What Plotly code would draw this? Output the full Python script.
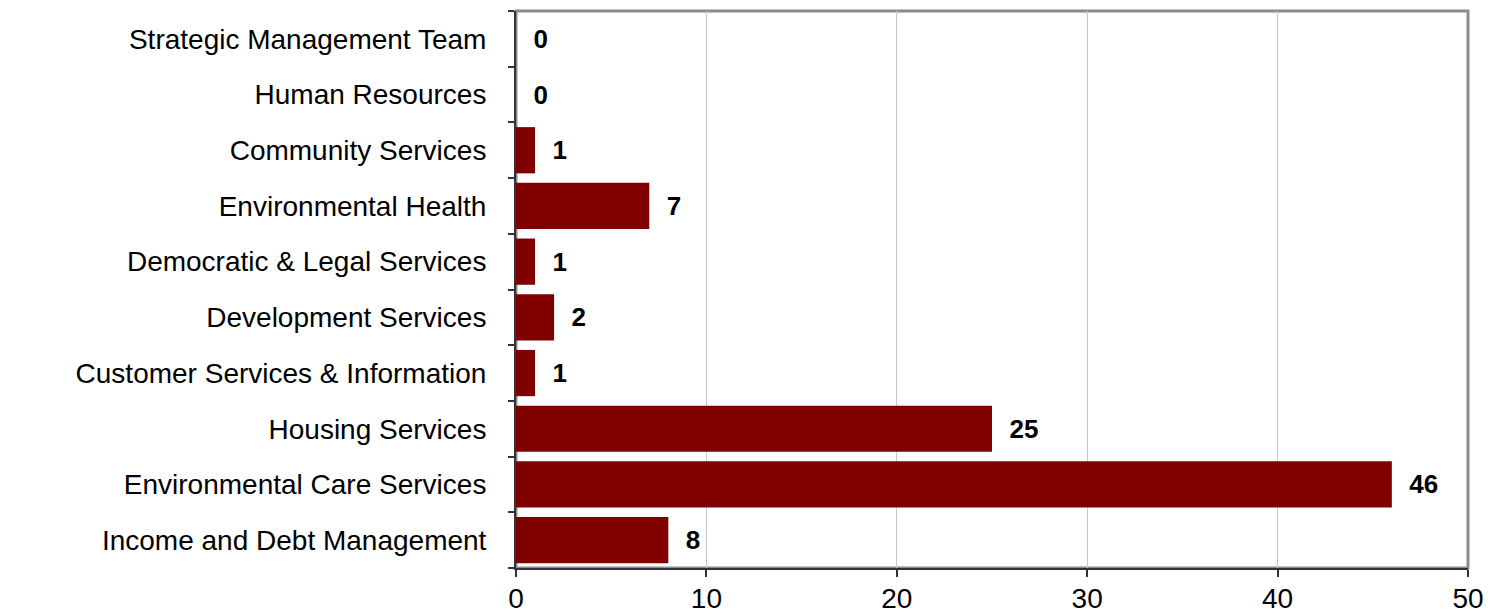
import plotly.graph_objects as go

categories = [
    "Income and Debt Management",
    "Environmental Care Services",
    "Housing Services",
    "Customer Services & Information",
    "Development Services",
    "Democratic & Legal Services",
    "Environmental Health",
    "Community Services",
    "Human Resources",
    "Strategic Management Team",
]
values = [8, 46, 25, 1, 2, 1, 7, 1, 0, 0]
x_ticks = [0, 10, 20, 30, 40, 50]

FONT = "Liberation Sans, Arial, sans-serif"

fig = go.Figure()
fig.add_trace(go.Bar(
    y=categories,
    x=values,
    orientation="h",
    marker=dict(color="#800000", line=dict(width=0)),
    text=["  " + str(v) for v in values],
    textposition="outside",
    textfont=dict(family=FONT, size=26, color="#000000", weight="bold"),
    cliponaxis=False,
    width=0.83,
))

# page body has an 8px default margin, so the figure is sized to fit inside it
fig.update_layout(
    width=1493,
    height=606,
    margin=dict(l=508, r=33, t=3, b=46, autoexpand=False),
    paper_bgcolor="white",
    plot_bgcolor="white",
    showlegend=False,
    font=dict(family=FONT, size=28, color="#000000"),
    xaxis=dict(
        range=[0, 50],
        tickvals=x_ticks,
        ticktext=[str(t) for t in x_ticks],
        showgrid=True,
        gridcolor="#c8c8c8",
        gridwidth=1,
        zeroline=False,
        showline=True,
        linecolor="#333333",
        linewidth=2,
        ticks="outside",
        ticklen=7,
        tickwidth=2,
        tickcolor="#333333",
        ticklabelstandoff=-3,
        tickfont=dict(family=FONT, size=28, color="#000000"),
    ),
    yaxis=dict(
        categoryorder="array",
        categoryarray=categories,
        range=[-0.5, len(categories) - 0.5],
        showgrid=False,
        zeroline=False,
        showline=True,
        linecolor="#333333",
        linewidth=2,
        ticks="outside",
        tickson="boundaries",
        ticklen=6,
        tickwidth=2,
        tickcolor="#333333",
        ticklabelstandoff=22,
        tickfont=dict(family=FONT, size=28, color="#000000"),
    ),
    shapes=[dict(
        type="rect", xref="paper", yref="paper",
        x0=0, x1=1, y0=0, y1=1,
        line=dict(color="#8c8c8c", width=3),
        layer="below",
    )],
)

fig.write_html("out.html")
